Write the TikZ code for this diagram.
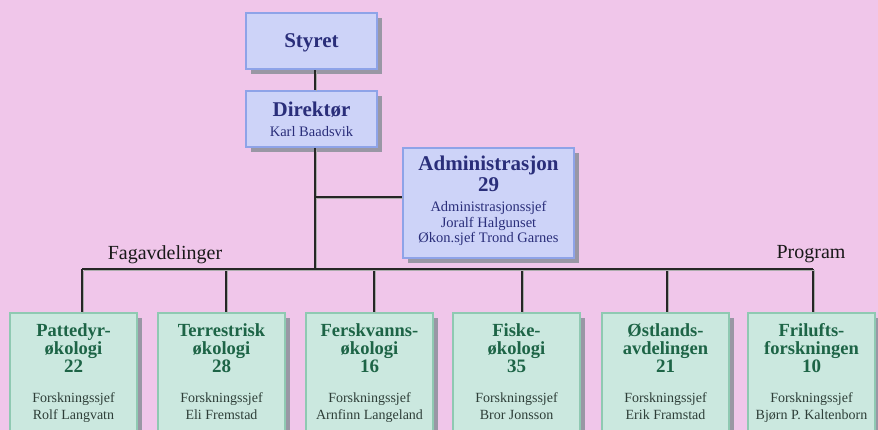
\documentclass[tikz,border=0pt]{standalone}
\usepackage{fontspec}
\setmainfont{Liberation Serif}
\usetikzlibrary{shadows}
\definecolor{bgpink}{HTML}{F0C6EA}
\definecolor{bfill}{HTML}{CDD3F8}
\definecolor{bdraw}{HTML}{8EA3E8}
\definecolor{btext}{HTML}{2A2E7A}
\definecolor{gfill}{HTML}{CBE8DF}
\definecolor{gdraw}{HTML}{8FC9B2}
\definecolor{gtext}{HTML}{1D6446}
\definecolor{stext}{HTML}{2E3E38}
\definecolor{shadowc}{HTML}{8A8F9A}
\definecolor{linec}{HTML}{262626}
\tikzset{
  boxshadow/.style={drop shadow={shadow xshift=5pt,shadow yshift=-5pt,fill=shadowc,opacity=0.85}},
  bbox/.style={draw=bdraw, line width=2.5pt, fill=bfill, boxshadow, inner sep=0pt},
  gbox/.style={draw=gdraw, line width=2.5pt, fill=gfill, boxshadow, inner sep=0pt,
    minimum width=127pt, minimum height=130pt},
  btitle/.style={anchor=base, inner sep=0pt, text=btext, font=\fontsize{21}{21}\selectfont\bfseries},
  bsmall/.style={anchor=base, inner sep=0pt, text=btext, font=\fontsize{14.5}{14.5}\selectfont},
  gtitle/.style={anchor=base, inner sep=0pt, text=gtext, font=\fontsize{18.5}{18.5}\selectfont\bfseries},
  gnum/.style={anchor=base, inner sep=0pt, text=gtext, font=\fontsize{19}{19}\selectfont\bfseries},
  gsmall/.style={anchor=base, inner sep=0pt, text=stext, font=\fontsize{14}{14}\selectfont},
  grouplabel/.style={anchor=base, inner sep=0pt, text=black!90, font=\fontsize{20}{20}\selectfont},
  conn/.style={draw=linec, line width=1.2pt,
    preaction={draw=gray!65, line width=1.6pt, transform canvas={xshift=1.6pt,yshift=-1.6pt}}}
}
\newcommand\gdept[8]{%
  \node[gbox] (#1) at ({#2+63.5},378) {};
  \node[gtitle] (#1a) at ({#2+63.5},337) {#4};
  \node[gtitle] (#1b) at ({#2+63.5},354.5) {#5};
  \node[gnum] (#1c) at ({#2+63.5},372.5) {#6};
  \node[gsmall] (#1d) at ({#2+63.5},402) {#7};
  \node[gsmall] (#1e) at ({#2+63.5},419) {#8};
  \coordinate (#1t) at (#3,269);
  \draw[conn] (#1t) -- (#1t |- #1.north);
}
\begin{document}
\begin{tikzpicture}[x=1pt,y=-1pt]
\clip (0,0) rectangle (878,430);
\fill[bgpink] (0,0) rectangle (878,430);
\useasboundingbox (0,0) rectangle (878,430);
% main column
\coordinate (m) at (315,0);
% top boxes
\node[bbox, minimum width=131pt, minimum height=56pt] (styret) at (311.5,41) {};
\node[btitle] (styrett) at (311.5,48) {Styret};
\node[bbox, minimum width=131pt, minimum height=56pt] (direk) at (311.5,119) {};
\node[btitle] (direkt) at (311.5,117) {Direktør};
\node[bsmall] (direkn) at (311.5,137) {Karl Baadsvik};
\node[bbox, minimum width=171pt, minimum height=110pt] (admin) at (488.5,203) {};
\node[btitle] (admint) at (488.5,171) {Administrasjon};
\node[btitle] (adminn) at (488.5,191.5) {29};
\node[bsmall] (admin1) at (488.5,212) {Administrasjonssjef};
\node[bsmall] (admin2) at (488.5,227.5) {Joralf Halgunset};
\node[bsmall] (admin3) at (488.5,243) {Økon.sjef Trond Garnes};
% connectors top
\draw[conn] (styret.south -| m) -- (direk.north -| m);
\coordinate (aj) at (315,197);
\coordinate (bus) at (315,269);
\draw[conn] (direk.south -| m) -- (bus);
\draw[conn] (aj) -- (aj -| admin.west);
% group labels
\node[grouplabel] (fag) at (165,260) {Fagavdelinger};
\node[grouplabel] (prog) at (811,259) {Program};
% departments
\gdept{d1}{10}{82}{Pattedyr-}{økologi}{22}{Forskningssjef}{Rolf Langvatn}
\gdept{d2}{158}{226}{Terrestrisk}{økologi}{28}{Forskningssjef}{Eli Fremstad}
\gdept{d3}{306}{374}{Ferskvanns-}{økologi}{16}{Forskningssjef}{Arnfinn Langeland}
\gdept{d4}{453}{522}{Fiske-}{økologi}{35}{Forskningssjef}{Bror Jonsson}
\gdept{d5}{602}{667}{Østlands-}{avdelingen}{21}{Forskningssjef}{Erik Framstad}
\gdept{d6}{748}{813}{Frilufts-}{forskningen}{10}{Forskningssjef}{Bjørn P. Kaltenborn}
% bus
\draw[conn] (d1t) -- (d6t);
\end{tikzpicture}
\end{document}
